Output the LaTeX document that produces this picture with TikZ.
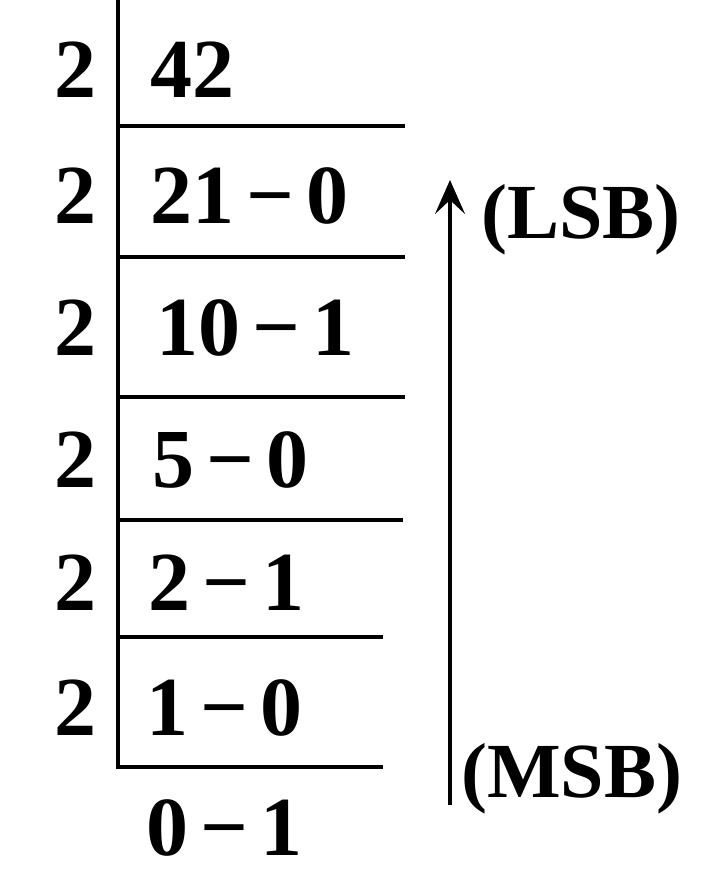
\documentclass[tikz,border=0pt]{standalone}
\usepackage{fontspec}
\setmainfont{Liberation Serif}
\usetikzlibrary{arrows.meta}
\newcommand\mymn{\hspace{12pt}−\hspace{12pt}}
\begin{document}
\begin{tikzpicture}[x=1pt,y=1pt,
  num/.style={inner sep=0pt,anchor=base west,font=\fontsize{84}{90}\selectfont\bfseries},
  div/.style={inner sep=0pt,anchor=base east,font=\fontsize{84}{90}\selectfont\bfseries},
  lbl/.style={inner sep=0pt,anchor=base west,font=\fontsize{78}{84}\selectfont\bfseries},
  rule/.style={line width=4.5pt},
  updir/.style={line width=3.5pt,-{Stealth[length=34pt,width=30pt,inset=14pt]}}]
\useasboundingbox (0,0) rectangle (702,-873);
% division bars
\draw[rule] (118,0) -- (118,-767) -- (383,-767);
\draw[rule] (118,-126) -- (405,-126);
\draw[rule] (118,-257) -- (405,-257);
\draw[rule] (118,-397) -- (405,-397);
\draw[rule] (118,-520) -- (403,-520);
\draw[rule] (118,-637) -- (383,-637);
% divisors
\node[div] (d1) at (97,-97) {2};
\node[div] (d2) at (97,-223) {2};
\node[div] (d3) at (97,-355) {2};
\node[div] (d4) at (97,-487) {2};
\node[div] (d5) at (97,-610) {2};
\node[div] (d6) at (97,-735) {2};
% quotients and remainders
\node[num] (q1) at (150,-97) {42};
\node[num] (q2) at (150,-223) {21\mymn 0};
\node[num] (q3) at (156,-355) {10\mymn 1};
\node[num] (q4) at (152,-487) {5\mymn 0};
\node[num] (q5) at (148,-610) {2\mymn 1};
\node[num] (q6) at (146,-735) {1\mymn 0};
\node[num] (q7) at (146,-855) {0\mymn 1};
% arrow and labels
\coordinate (abot) at (450,-805);
\coordinate (atop) at (450,-180);
\draw[updir] (abot) -- (atop);
\node[lbl] (lsb) at (481,-238) {(LSB)};
\node[lbl] (msb) at (461,-797) {(MSB)};
\end{tikzpicture}
\end{document}
